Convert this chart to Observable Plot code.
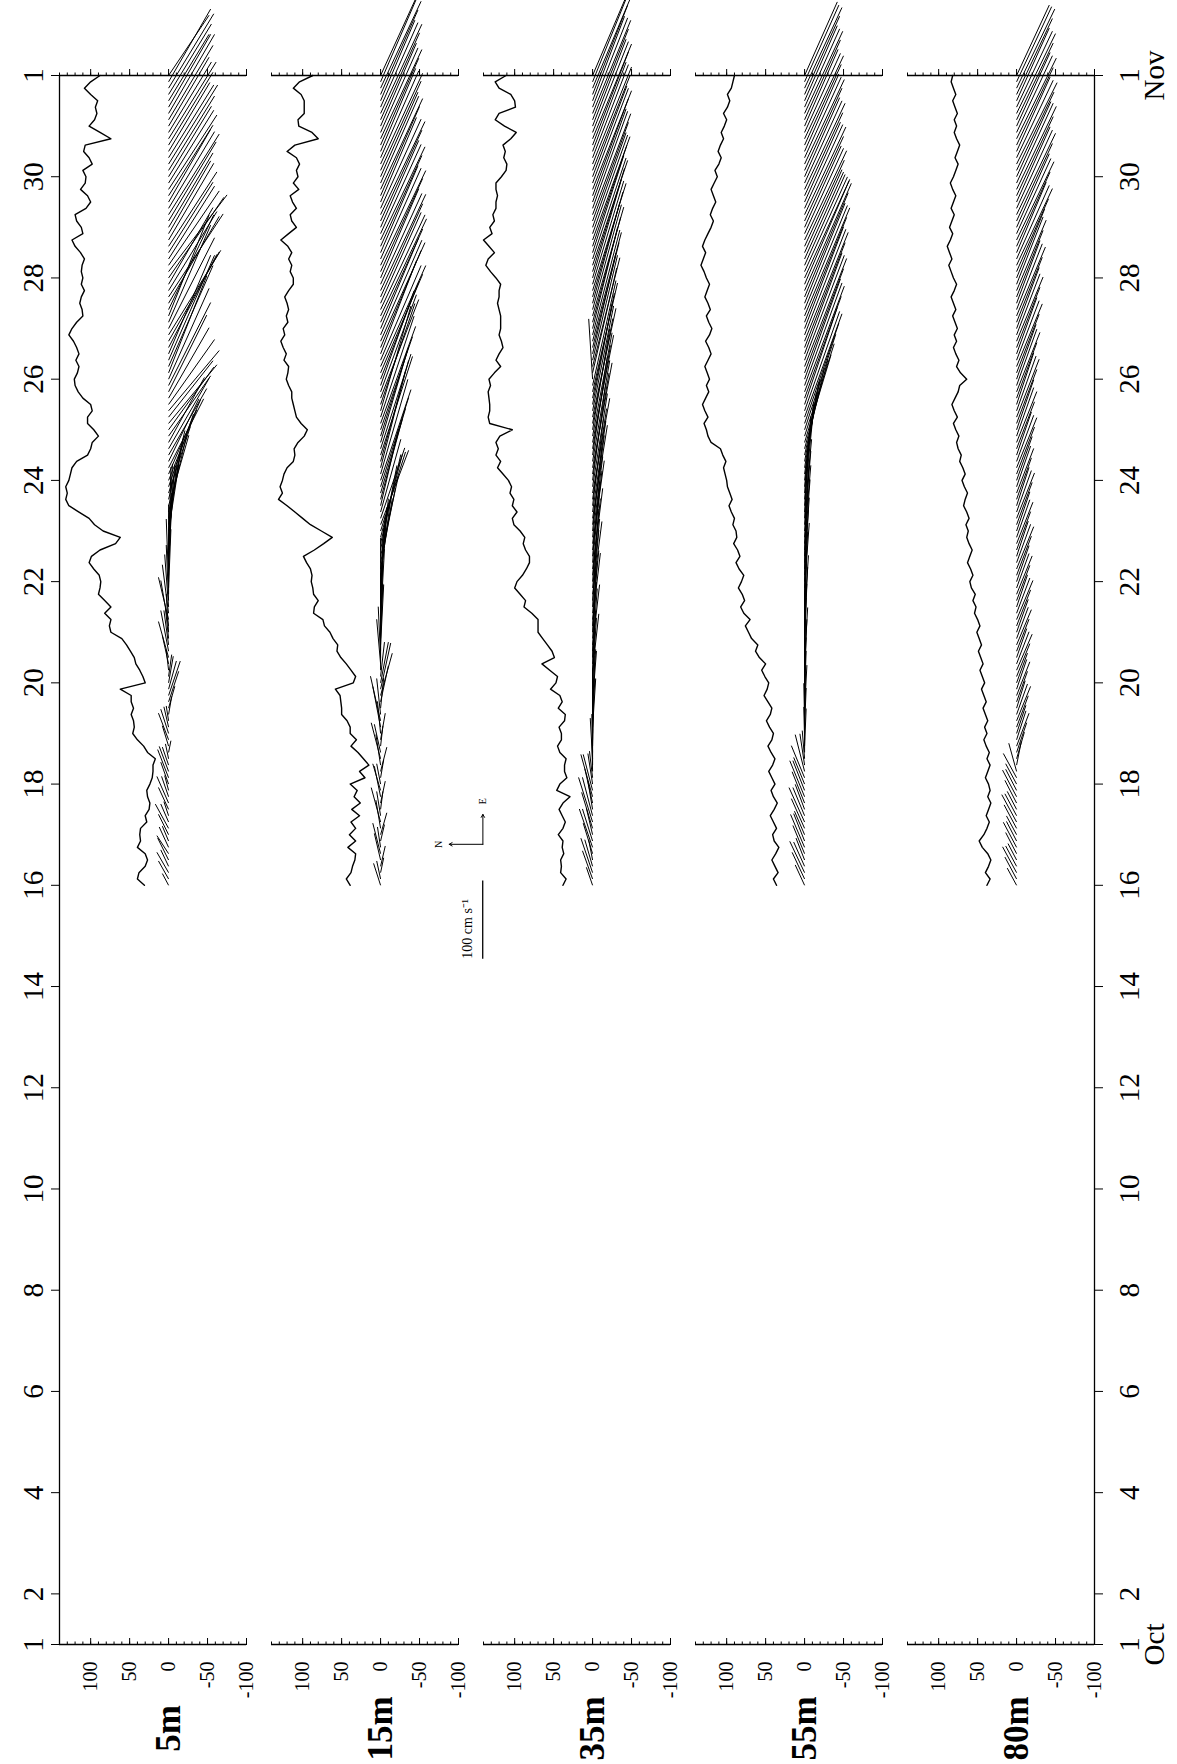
<!DOCTYPE html>
<html><head><meta charset="utf-8">
<script src="https://cdn.jsdelivr.net/npm/d3@7"></script>
<script src="https://cdn.jsdelivr.net/npm/@observablehq/plot@0.6"></script>
<style>
html,body{margin:0;padding:0;background:#fff;}
#wrap{position:absolute;left:0;top:1764px;width:1764px;height:1177px;transform-origin:0 0;transform:rotate(-90deg);}
#wrap svg{display:block;}
</style></head><body><div id="wrap"></div>
<script>
// ---- data (series start 16 Oct, one value every 3 hours, to 1 Nov) ----
const depths = ["5m", "15m", "35m", "55m", "80m"];
const seriesStartDay = 16;          // day of October
const seriesStepDay = 1 / 8;        // 3-hourly
const dateTickDays = [1, 2, 4, 6, 8, 10, 12, 14, 16, 18, 20, 22, 24, 26, 28, 30, 32];
const valueLabelTicks = [-100, -50, 0, 50, 100];
const valueMinorTicks = [-100, -90, -80, -70, -60, -50, -40, -30, -20, -10, 0, 10, 20, 30, 40, 50, 60, 70, 80, 90, 100, 110, 120, 130, 140];
const valueMajorTicks = [-100, -50, 0, 50, 100];

const line5m = [31,40,38,30,27,30,40,36, 37,36,28,30,25,24,27,28, 24,21,20,20,17,27,32,40, 46,44,45,48,45,48,48,62,
  30,33,37,42,44,49,54,60, 74,76,74,82,74,82,90,88, 87,89,96,102,99,88,68,62, 84,95,102,115,128,132,130,132,
  128,126,124,118,104,100,98,90, 96,104,104,98,100,110,116,120, 121,117,115,119,115,118,122,128, 124,118,110,111,114,112,108,112,
  110,112,111,108,113,120,124,110, 112,118,120,106,100,104,113,107, 106,110,98,102,109,107,74,88, 102,95,92,94,91,100,108,100, 88];
const line15m = [39,44,38,36,33,32,42,32, 40,32,38,27,37,26,34,30, 39,20,27,15,22,29,38,31, 39,39,43,50,50,51,52,58,
  35,32,38,44,51,56,55,61, 65,72,74,86,85,80,86,87, 89,88,90,95,99,85,73,62, 76,90,100,110,120,131,126,129,
  126,124,120,112,110,111,106,98, 94,102,108,110,112,114,114,118, 121,119,118,124,121,125,128,123, 125,119,121,118,120,123,118,112,
  112,116,114,118,114,119,128,118, 108,114,116,108,113,116,105,112, 106,108,104,108,120,110,80,88, 105,106,98,98,98,102,112,104, 87];
const line35m = [38,34,41,40,41,37,39,38, 44,38,35,39,43,38,29,46, 42,33,36,36,34,42,45,40, 40,43,36,35,44,39,42,54,
  47,45,55,65,49,52,58,64, 70,70,70,78,88,86,93,100, 97,90,85,81,81,86,89,87, 93,101,103,97,103,101,106,104,
  108,115,122,118,124,121,124,119, 103,132,134,132,132,133,134,131, 133,126,118,124,120,115,117,120, 118,118,118,120,122,120,120,118,
  124,131,137,134,126,133,140,129, 132,126,128,124,124,122,124,124, 117,111,110,114,112,115,105,98, 113,125,120,99,100,105,120,125, 111];
const line55m = [36,40,34,38,42,37,33,39, 41,36,40,44,39,35,40,43, 38,42,46,41,38,43,47,42, 40,45,49,44,42,47,52,48,
  46,51,55,50,58,63,60,68, 72,76,70,78,82,77,80,85, 81,78,84,88,83,86,91,87, 88,92,90,94,97,93,96,99,
  100,102,104,101,105,108,120,124, 126,129,124,128,131,127,123,126, 122,125,128,124,120,123,127,122, 119,123,126,121,124,128,125,122,
  126,129,133,130,127,131,128,124, 120,117,121,118,114,117,120,116, 112,115,110,107,111,108,104,107, 103,100,104,99,96,99,94,92, 90];
const line80m = [38,34,40,36,33,37,44,48, 42,38,35,39,36,33,37,34, 36,40,37,34,38,35,39,42, 38,41,37,40,43,39,42,45,
  41,44,47,43,46,49,45,48, 51,47,50,54,52,56,53,58, 60,56,59,63,60,57,61,64, 62,65,61,64,68,66,63,67,
  70,66,69,73,71,75,77,74, 78,81,76,80,83,79,75,73, 64,72,77,74,78,81,77,80, 76,79,82,78,81,84,80,77,
  81,84,87,83,86,89,85,82, 86,83,80,84,81,78,82,85, 81,78,75,79,76,73,77,80, 77,80,76,79,82,78,81,84, 82];

// current components (cm/s): east and north
const east5m = [15,23,26,21,28,23,26,19, 26,31,23,18,28,34,26,19, 28,36,32,23,19,15,26,34, 31,26,19,23,28,39,44,36,
  34,28,26,36,46,52,44,39, 49,58,54,62,67,71,77,75, 80,90,97,106,114,110,101,90, 84,93,103,97,90,88,85,93,
  90,95,88,80,85,90,83,77, 80,75,72,77,83,90,98,106, 116,124,129,134,126,119,114,108, 116,124,129,121,111,106,101,98,
  103,98,95,93,90,95,98,93, 95,101,103,98,93,90,95,93, 90,95,101,93,88,93,98,90, 88,95,101,93,85,90,95,93, 77];
const north5m = [8,13,15,10,14,15,12,8, 13,17,10,6,13,15,9,5, 10,14,12,8,4,-3,8,13, 10,6,3,-4,-8,-13,-15,-10,
  -6,-4,3,8,13,10,6,4, 3,10,13,8,5,3,0,-3, 3,0,-4,-6,-3,-5,-8,-10, -13,-15,-19,-23,-26,-21,-28,-32,
  -36,-41,-45,-39,-49,-52,-46,-54, -58,-62,-57,-65,-59,-52,-49,-54, -52,-49,-57,-59,-54,-62,-65,-67, -59,-54,-52,-58,-65,-70,-62,-57,
  -71,-75,-65,-59,-57,-62,-58,-54, -57,-61,-65,-59,-54,-57,-62,-58, -55,-59,-63,-58,-53,-57,-61,-55, -52,-57,-59,-54,-52,-55,-58,-54, -52];
const east15m = [28,23,19,26,34,39,26,21, 28,36,44,31,23,28,39,34, 26,23,31,39,46,36,26,34, 41,52,57,46,39,46,54,59,
  52,44,49,57,65,72,77,70, 75,83,90,95,88,93,101,103, 106,98,90,95,103,108,114,106, 101,95,90,93,98,103,108,114,
  116,121,124,129,126,121,116,114, 119,124,129,134,129,126,124,121, 124,126,129,121,119,124,126,121, 116,119,124,121,116,119,123,116,
  114,119,121,116,111,116,119,114, 111,116,119,114,108,114,116,111, 108,114,116,111,106,111,114,108, 106,111,114,108,103,108,111,106, 98];
const north15m = [9,5,-4,-6,8,10,4,-5, -8,6,12,5,-3,-6,8,10, 5,-4,-8,6,12,8,-3,-6, 4,10,13,5,-4,-10,-15,-13,
  -10,-5,0,5,3,0,-4,-3, 0,-3,-5,-3,0,-4,-6,-8, -10,-13,-15,-19,-23,-21,-26,-28, -32,-36,-31,-26,-23,-28,-32,-36,
  -39,-35,-32,-36,-41,-39,-34,-36, -41,-45,-43,-39,-44,-49,-46,-43, -49,-54,-58,-52,-46,-52,-57,-53, -49,-54,-59,-57,-52,-54,-58,-53,
  -49,-54,-58,-52,-48,-53,-57,-52, -49,-53,-57,-52,-46,-50,-54,-49, -48,-52,-54,-49,-45,-49,-53,-48, -46,-50,-53,-48,-44,-48,-52,-46, -45];
const east35m = [23,36,44,34,26,39,49,41, 34,46,57,49,36,44,54,46, 39,34,41,46,52,49,44,52, 57,62,54,59,67,65,59,65,
  70,75,72,67,75,80,77,72, 77,83,85,80,85,90,93,88, 93,98,103,101,95,101,106,103, 108,114,119,116,111,116,121,119,
  124,129,134,129,126,132,137,132, 129,134,139,134,129,134,139,134, 77,134,139,134,129,134,139,134, 129,134,139,134,129,134,137,132,
  126,132,134,129,124,129,132,126, 121,126,129,124,119,124,126,121, 116,121,124,119,114,119,121,116, 111,116,119,114,108,114,116,111, 103];
const north35m = [8,13,15,10,5,12,17,13, 8,14,18,13,6,10,15,12, 6,4,1,0,3,1,-1,0, -1,-4,-3,0,-3,-5,-4,-1,
  -3,-5,-8,-4,-3,-6,-9,-5, -4,-6,-10,-8,-5,-8,-12,-9, -8,-10,-13,-10,-9,-12,-15,-13, -12,-15,-19,-17,-14,-18,-22,-19,
  -17,-21,-25,-22,-19,-23,-27,-25, -22,-26,-30,-27,-25,-28,-32,-30, 5,-31,-35,-32,-30,-34,-37,-35, -32,-36,-40,-37,-35,-39,-43,-40,
  -37,-41,-45,-43,-40,-44,-48,-45, -43,-46,-49,-45,-43,-46,-50,-46, -44,-48,-50,-46,-43,-46,-50,-46, -43,-46,-49,-45,-41,-45,-49,-45, -44];
const east55m = [26,34,40,31,28,36,42,35, 30,38,44,36,32,40,46,38, 34,41,47,40,36,44,48,42, 46,50,48,52,55,53,57,60,
  58,62,65,61,64,68,66,70, 72,75,71,74,78,76,80,83, 80,84,87,83,86,90,88,92, 90,94,97,93,96,100,98,102,
  100,104,108,105,110,114,112,118, 122,128,132,127,124,130,135,131, 128,133,138,134,129,134,139,135, 130,134,138,133,128,133,137,132,
  126,121,116,111,106,110,114,109, 104,108,112,107,102,106,110,105, 101,105,108,103,99,103,106,101, 98,102,105,100,96,100,103,98, 94];
const north55m = [12,16,19,14,11,15,18,14, 13,17,20,15,12,16,19,15, 14,17,12,6,3,0,-2,1, 0,-2,1,-1,-3,0,-2,-1,
  -2,0,-3,-1,-4,-2,0,-3, -1,-4,-2,-5,-3,-1,-4,-6, -3,-5,-2,-6,-4,-7,-5,-8, -6,-8,-5,-9,-7,-10,-8,-11,
  -12,-15,-18,-20,-25,-30,-34,-38, -40,-44,-48,-45,-42,-47,-51,-48, -46,-50,-54,-51,-48,-52,-56,-53, -50,-54,-58,-55,-52,-56,-60,-57,
  -58,-55,-52,-50,-48,-51,-54,-50, -47,-50,-53,-49,-46,-49,-52,-48, -45,-48,-51,-47,-44,-47,-50,-46, -43,-46,-49,-45,-42,-45,-48,-44, -42];
const east80m = [22,28,33,26,21,27,32,25, 24,30,35,28,23,29,34,27, 26,31,36,30,34,38,42,37, 36,40,44,39,35,39,43,38,
  38,42,46,41,37,41,45,40, 42,46,50,45,41,45,49,44, 46,50,54,49,45,49,53,48, 50,54,58,53,49,53,57,52,
  56,60,64,59,55,60,65,62, 64,69,74,70,66,71,76,72, 70,75,80,76,72,77,82,78, 78,83,88,84,80,85,90,86,
  88,93,98,94,90,95,100,96, 94,99,104,100,96,101,106,102, 96,100,104,99,95,99,103,98, 94,98,102,97,93,97,101,96, 90];
const north80m = [12,15,18,14,11,14,17,13, 13,16,19,15,12,15,18,14, 14,17,10,-6,-10,-13,-16,-12, -12,-15,-18,-14,-11,-14,-17,-13,
  -14,-17,-20,-16,-13,-16,-19,-15, -15,-18,-21,-17,-14,-17,-20,-16, -16,-19,-22,-18,-15,-18,-21,-17, -17,-20,-23,-19,-16,-19,-22,-18,
  -20,-23,-26,-22,-19,-23,-26,-22, -22,-26,-29,-25,-22,-26,-30,-26, -25,-29,-33,-29,-26,-30,-34,-30, -29,-33,-37,-33,-30,-34,-38,-34,
  -36,-41,-46,-42,-38,-43,-48,-44, -42,-46,-50,-46,-43,-47,-51,-47, -44,-48,-52,-47,-43,-47,-51,-46, -43,-47,-50,-46,-42,-46,-49,-45, -42];

// ---- layout ----
const W = 1764, H = 1177, mL = 119, mR = 76, mT = 57, mB = 81, padIn = 0.117;
const yDomain = [-100, 140];
const frameW = W - mL - mR;
const bandStep = (H - mT - mB) / (depths.length - padIn);
const bandH = bandStep * (1 - padIn);
const pxPerUnit = bandH / (yDomain[1] - yDomain[0]);
const pxPerDay = frameW / 31;
const msPerCms = pxPerUnit / pxPerDay * 864e5;   // east component drawn at same pixel scale as north
const t0 = Date.UTC(1990, 9, 1);
const dayDate = d => new Date(t0 + (d - 1) * 864e5);

const series = {
  "5m": {line: line5m, east: east5m, north: north5m},
  "15m": {line: line15m, east: east15m, north: north15m},
  "35m": {line: line35m, east: east35m, north: north35m},
  "55m": {line: line55m, east: east55m, north: north55m},
  "80m": {line: line80m, east: east80m, north: north80m}
};
const lineData = depths.flatMap(dep => series[dep].line.map((v, i) => ({depth: dep, date: dayDate(seriesStartDay + i * seriesStepDay), value: v})));
const stickData = depths.flatMap(dep => series[dep].east.map((u, i) => ({depth: dep, date: dayDate(seriesStartDay + i * seriesStepDay), u, v: series[dep].north[i]})));

const tickDates = dateTickDays.map(dayDate);
const monthName = d => d.getUTCMonth() === 9 ? "Oct" : "Nov";
const font = "'Liberation Serif','Times New Roman',serif";

// legend (placed in the 35m panel area)
const legendBar = [{depth: "35m", day: 14.55, speed: 100, y: 141}];
const legendBarText = [{depth: "35m", day: 14.55, y: 155, text: "100 cm s\u207B\u00B9"}];
const legendArrows = [
  {depth: "35m", d1: 16.81, y1: 140.8, d2: 16.81, y2: 184},
  {depth: "35m", d1: 16.81, y1: 140.8, d2: 17.40, y2: 140.8}
];
const legendLetters = [
  {depth: "35m", day: 16.81, y: 197, text: "N"},
  {depth: "35m", day: 17.66, y: 140.8, text: "E"}
];

const chart = Plot.plot({
  width: W, height: H,
  marginLeft: mL, marginRight: mR, marginTop: mT, marginBottom: mB,
  style: {fontFamily: font, background: "white", color: "black", overflow: "visible"},
  x: {type: "utc", domain: [dayDate(1), dayDate(32)], label: null},
  y: {domain: yDomain, label: null},
  fy: {domain: depths, paddingInner: padIn, paddingOuter: 0, axis: null, label: null},
  marks: [
    // time axes (top and bottom of the stack)
    Plot.axisX({anchor: "top", ticks: tickDates, tickFormat: d => String(d.getUTCDate()), tickSize: 9, tickPadding: 8, fontSize: 29, label: null}),
    Plot.axisX({anchor: "bottom", ticks: tickDates, tickFormat: d => d.getUTCDate() === 1 ? `1\n${monthName(d)}` : String(d.getUTCDate()), tickSize: 9, tickPadding: 18, fontSize: 29, lineHeight: 0.85, label: null}),
    Plot.ruleY([{depth: "5m", y: 140}], {y: "y", fy: "depth", strokeWidth: 1.3}),
    Plot.ruleY([{depth: "80m", y: -100}], {y: "y", fy: "depth", strokeWidth: 1.3}),
    // per-panel value axes at 1 Oct and 1 Nov
    Plot.ruleX([dayDate(1), dayDate(32)], {strokeWidth: 1.3}),
    Plot.tickY(valueMinorTicks, {y: d => d, insetRight: frameW - 3.5, strokeWidth: 1}),
    Plot.tickY(valueMajorTicks, {y: d => d, insetRight: frameW - 7, strokeWidth: 1}),
    Plot.tickY(valueMinorTicks, {y: d => d, insetLeft: frameW, insetRight: -3.5, strokeWidth: 1}),
    Plot.tickY(valueMajorTicks, {y: d => d, insetLeft: frameW, insetRight: -7, strokeWidth: 1}),
    Plot.axisY({anchor: "left", ticks: valueLabelTicks, tickSize: 0, tickPadding: 17, fontSize: 20, tickFormat: d => String(d), label: null}),
    // depth labels
    Plot.text(depths, {fy: d => d, y: d => 0, text: d => d, frameAnchor: "left", dx: -84, textAnchor: "middle", lineAnchor: "middle", fontSize: 35, fontWeight: "bold"}),
    // current vectors
    Plot.link(stickData, {x1: "date", y1: d => 0, x2: d => new Date(+d.date + d.u * msPerCms), y2: "v", fy: "depth", stroke: "black", strokeWidth: 1}),
    // speed line
    Plot.line(lineData, {x: "date", y: "value", fy: "depth", stroke: "black", strokeWidth: 1.4}),
    // legend
    Plot.link(legendBar, {x1: d => dayDate(d.day), x2: d => new Date(+dayDate(d.day) + d.speed * msPerCms), y1: "y", y2: "y", fy: "depth", strokeWidth: 1.3}),
    Plot.text(legendBarText, {x: d => dayDate(d.day), y: "y", text: "text", fy: "depth", textAnchor: "start", lineAnchor: "bottom", fontSize: 14}),
    Plot.arrow(legendArrows, {x1: d => dayDate(d.d1), y1: "y1", x2: d => dayDate(d.d2), y2: "y2", fy: "depth", headLength: 5, strokeWidth: 1}),
    Plot.text(legendLetters, {x: d => dayDate(d.day), y: "y", text: "text", fy: "depth", fontSize: 10})
  ]
});
document.getElementById("wrap").append(chart);
</script>
</body></html>
